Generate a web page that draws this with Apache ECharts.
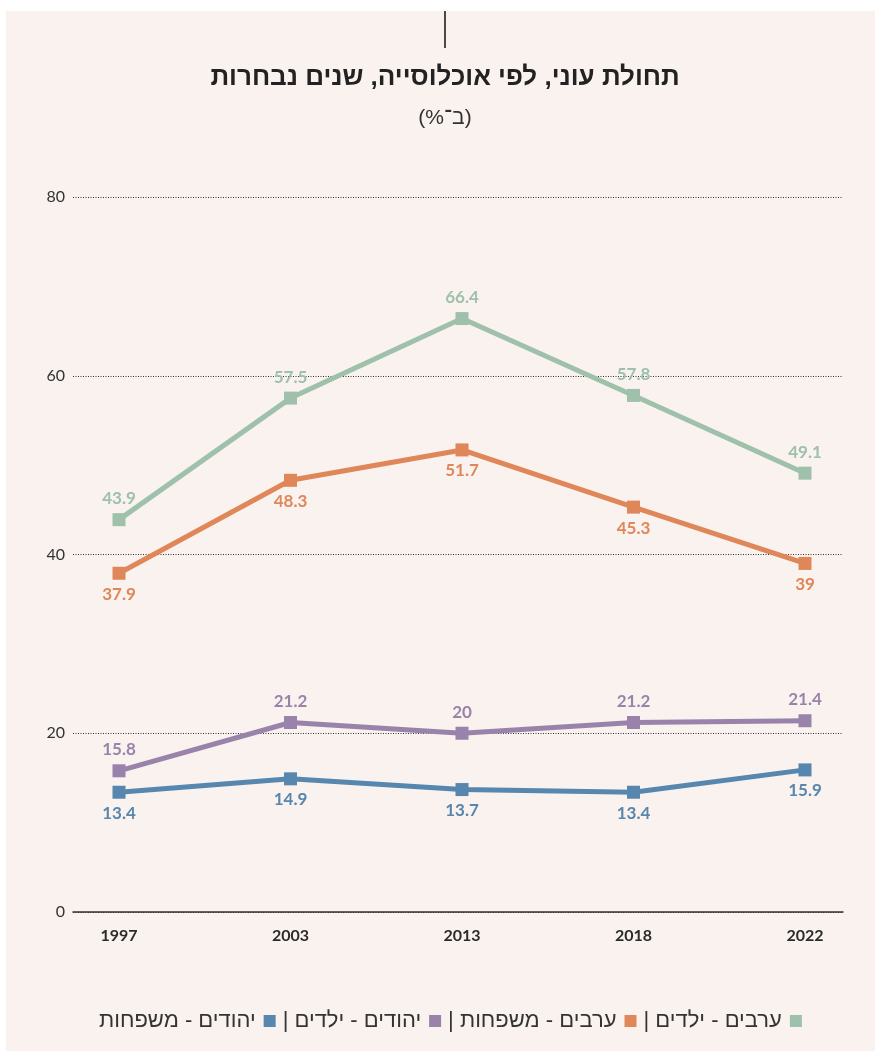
<!DOCTYPE html>
<html><head><meta charset="utf-8">
<script src="https://cdn.jsdelivr.net/npm/echarts@6/dist/echarts.min.js"></script>
<style>html,body{margin:0;padding:0;background:#fff}#c{width:875px;height:1051px}</style>
</head><body><div id="c" dir="rtl"></div>
<script>
const years = ['1997', '2003', '2013', '2018', '2022'];
const arabsChildren = [43.9, 57.5, 66.4, 57.8, 49.1];
const arabsFamilies = [37.9, 48.3, 51.7, 45.3, 39];
const jewsChildren = [15.8, 21.2, 20, 21.2, 21.4];
const jewsFamilies = [13.4, 14.9, 13.7, 13.4, 15.9];
const yMin = 0, yMax = 80, yStep = 20;
const seriesNames = ['ערבים - ילדים', 'ערבים - משפחות', 'יהודים - ילדים', 'יהודים - משפחות'];
const seriesColors = ['#9fc0aa', '#e0875a', '#9a83ab', '#5786ae'];
const titleText = 'תחולת עוני, לפי אוכלוסייה, שנים נבחרות';
const subtitleText = '(ב־%)';

const numFont = 'Lato, "Open Sans", sans-serif';
const hebFont = '"Liberation Sans", "DejaVu Sans", sans-serif';
const dataSets = [arabsChildren, arabsFamilies, jewsChildren, jewsFamilies];
const labelPos = ['top', 'bottom', 'top', 'bottom'];

const chart = echarts.init(document.getElementById('c'), null, {renderer: 'canvas'});
const gridBox = {top: 197, bottom: 139};
chart.setOption({
  backgroundColor: '#ffffff',
  animation: false,
  graphic: [
    {type: 'rect', z: -10, silent: true, shape: {x: 6, y: 11, width: 869, height: 1040}, style: {fill: '#f9f2ef'}},
    {type: 'line', shape: {x1: 445, y1: 11, x2: 445, y2: 48}, style: {stroke: '#111', lineWidth: 1.5}},
    {type: 'text', x: 445, y: 78, style: {text: titleText, align: 'center', verticalAlign: 'middle', font: 'bold 26px ' + hebFont, fill: '#222'}},
    {type: 'text', x: 445, y: 118, style: {text: subtitleText, align: 'center', verticalAlign: 'middle', font: '21px ' + hebFont, fill: '#333'}}
  ],
  grid: [
    {left: 73, right: 32, top: gridBox.top, bottom: gridBox.bottom},
    {left: 119, right: 70, top: gridBox.top, bottom: gridBox.bottom}
  ],
  xAxis: [
    {type: 'value', gridIndex: 0, min: 0, max: 1, axisLine: {show: true, onZero: false, lineStyle: {color: '#333', width: 1.5}},
     axisTick: {show: false}, axisLabel: {show: false}, splitLine: {show: false}},
    {type: 'category', gridIndex: 1, data: years, boundaryGap: false, axisLine: {show: false}, axisTick: {show: false},
     axisLabel: {color: '#2b2b2b', fontSize: 16, fontWeight: 'bold', fontFamily: numFont, margin: 16}}
  ],
  yAxis: [
    {type: 'value', gridIndex: 0, min: yMin, max: yMax, interval: yStep, axisLine: {show: false}, axisTick: {show: false},
     axisLabel: {color: '#333', fontSize: 16, fontFamily: numFont, margin: 8},
     splitLine: {lineStyle: {color: '#333', width: 1, type: [1, 1.5]}}},
    {type: 'value', gridIndex: 1, min: yMin, max: yMax, show: false}
  ],
  legend: {
    data: seriesNames.slice().reverse(),
    left: 94, top: 1005, align: 'right', itemGap: 7, itemWidth: 12, itemHeight: 12,
    icon: 'rect',
    formatter: function (n) { return n === seriesNames[3] ? n : n + ' |'; },
    textStyle: {fontSize: 22, fontFamily: hebFont, color: '#333', padding: [0, 3, 0, 0]}
  },
  series: dataSets.map(function (d, i) {
    return {
      name: seriesNames[i], type: 'line', xAxisIndex: 1, yAxisIndex: 1, data: d,
      symbol: 'rect', symbolSize: 13,
      lineStyle: {width: 5, color: seriesColors[i]},
      itemStyle: {color: seriesColors[i]},
      label: {show: true, position: labelPos[i], distance: 6, color: seriesColors[i], fontSize: 17, fontWeight: 'bold', fontFamily: numFont}
    };
  })
});
</script></body></html>
